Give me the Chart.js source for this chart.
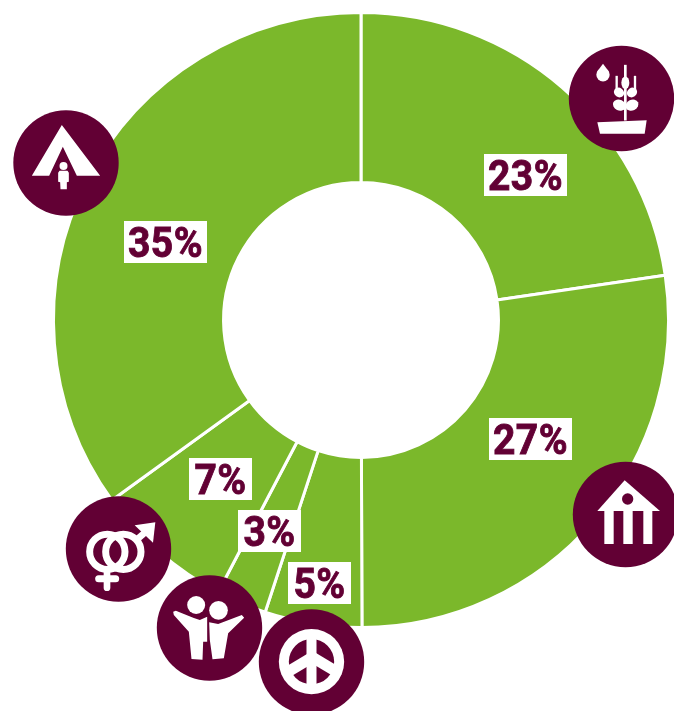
<!DOCTYPE html>
<html>
<head>
<meta charset="utf-8">
<title>Donut</title>
<script src="https://cdn.jsdelivr.net/npm/chart.js@4"></script>
<style>
  html, body { margin: 0; padding: 0; background: #fff; overflow: hidden; }
  canvas { display: block; }
</style>
</head>
<body>
<canvas id="graph_area" width="674" height="711"></canvas>
<script>
// slices, clockwise from 12 o'clock
const categories = ['food', 'shelter', 'peace', 'children', 'gender', 'displaced'];
const shares = [22.7, 27.3, 5.1, 2.65, 7.35, 35];
const shareLabels = ['23%', '27%', '5%', '3%', '7%', '35%'];

const GREEN = '#7bb82b';
const MAUVE = '#620034';
const WHITE = '#ffffff';

// label boxes and icon badges (centres in page pixels), same order as categories
const labelCentres = [[525.5, 175], [530.5, 439], [319.5, 583], [269.5, 531], [220.5, 479], [165.5, 242]];
const badgeCentres = [[621.5, 98.5], [625.5, 514.5], [311.5, 662], [209.5, 628], [118.5, 549], [66, 163]];
const BADGE_R = 52.7;

function poly(ctx, pts) {
  ctx.beginPath();
  pts.forEach(function (p, i) {
    if (i === 0) ctx.moveTo(p[0], p[1]); else ctx.lineTo(p[0], p[1]);
  });
  ctx.closePath();
  ctx.fill();
}
function disc(ctx, x, y, r) {
  ctx.beginPath();
  ctx.arc(x, y, r, 0, Math.PI * 2);
  ctx.fill();
}
function oval(ctx, x, y, rx, ry, rot) {
  ctx.beginPath();
  ctx.ellipse(x, y, rx, ry, rot, 0, Math.PI * 2);
  ctx.fill();
}
function seg(ctx, x1, y1, x2, y2, w, cap) {
  ctx.lineWidth = w;
  ctx.lineCap = cap || 'butt';
  ctx.beginPath();
  ctx.moveTo(x1, y1);
  ctx.lineTo(x2, y2);
  ctx.stroke();
}

// icons are drawn in a 3x local grid, origin at the badge centre offset below
const icons = [
  // wheat in a pot with a drop
  { ox: 424.5, oy: 206, draw: function (ctx) {
    disc(ctx, 369, 135, 20);
    poly(ctx, [[369, 102], [387, 126], [351, 126]]);
    poly(ctx, [[352, 277], [500, 271], [494, 312], [360, 312]]);
    seg(ctx, 410, 138, 410, 185, 7);
    seg(ctx, 465, 138, 465, 185, 7);
    oval(ctx, 418, 226, 20, 16, 0.45);
    oval(ctx, 456, 226, 20, 16, -0.45);
    oval(ctx, 417, 188, 16, 14, 0.6);
    oval(ctx, 456, 188, 16, 14, -0.6);
    oval(ctx, 436, 159, 12, 19, 0);
    seg(ctx, 436, 105, 436, 145, 8);
    seg(ctx, 436, 176, 436, 272, 8);
  } },
  // house with columns
  { ox: 436.5, oy: 343.5, draw: function (ctx) {
    poly(ctx, [[434, 241], [540, 333], [352, 333]]);
    ctx.fillRect(373, 333, 28, 99);
    ctx.fillRect(430, 333, 28, 99);
    ctx.fillRect(490, 333, 27, 99);
    ctx.fillStyle = MAUVE;
    disc(ctx, 443, 297, 17);
  } },
  // peace sign
  { ox: 485, oy: 306, draw: function (ctx) {
    disc(ctx, 485, 305, 98);
    ctx.fillStyle = MAUVE;
    disc(ctx, 485, 305, 68);
    ctx.save();
    ctx.beginPath();
    ctx.arc(485, 305, 72, 0, Math.PI * 2);
    ctx.clip();
    seg(ctx, 485, 210, 485, 400, 30);
    seg(ctx, 485, 293, 400, 344, 33);
    seg(ctx, 485, 290, 570, 341, 33);
    ctx.restore();
  } },
  // two children, arms raised
  { ox: 179, oy: 204, draw: function (ctx) {
    disc(ctx, 139, 135, 27);
    disc(ctx, 206, 151, 28);
    poly(ctx, [[70, 155], [78, 152], [132, 174], [150, 180], [172, 170], [172, 245], [160, 245], [158, 299], [125, 297], [117, 215], [72, 165]]);
    poly(ctx, [[178, 187], [205, 192], [276, 165], [283, 173], [235, 220], [222, 295], [188, 298], [180, 240]]);
  } },
  // male and female symbols
  { ox: 176.5, oy: 297, draw: function (ctx) {
    ctx.lineWidth = 21;
    ctx.beginPath();
    ctx.arc(143, 305.5, 53, 0, Math.PI * 2);
    ctx.stroke();
    ctx.beginPath();
    ctx.arc(191, 305.5, 53, 0, Math.PI * 2);
    ctx.stroke();
    seg(ctx, 142, 362, 142, 413, 20, 'round');
    seg(ctx, 117, 386, 168, 386, 21, 'round');
    seg(ctx, 230, 270, 262, 242, 20);
    poly(ctx, [[225, 226], [287, 217], [280, 278]]);
  } },
  // tent with a person
  { ox: 197.5, oy: 219, draw: function (ctx) {
    poly(ctx, [[185, 105], [300, 257], [230, 257], [188, 170], [147, 257], [95, 257]]);
    disc(ctx, 190, 228, 12);
    poly(ctx, [[178, 242], [202, 242], [206, 248], [206, 275], [200, 277], [200, 298], [181, 298], [180, 277], [174, 275], [174, 248]]);
  } }
];

const badgePlugin = {
  id: 'badges',
  afterDatasetsDraw: function (chart) {
    const ctx = chart.ctx;
    ctx.save();
    ctx.font = '700 42px Roboto';
    ctx.letterSpacing = '0.5px';
    ctx.textAlign = 'center';
    ctx.textBaseline = 'alphabetic';
    shareLabels.forEach(function (label, i) {
      const w = label.length === 3 ? 83 : 63;
      const c = labelCentres[i];
      ctx.fillStyle = WHITE;
      ctx.fillRect(c[0] - w / 2, c[1] - 21, w, 42);
      ctx.fillStyle = MAUVE;
      ctx.strokeStyle = MAUVE;
      ctx.lineWidth = 0.9;
      ctx.save();
      ctx.translate(c[0], c[1] + 15);
      ctx.scale(0.93, 1);
      ctx.fillText(label, 0, 0);
      ctx.strokeText(label, 0, 0); // source face is a bit heavier
      ctx.restore();
    });
    ctx.letterSpacing = '0px';
    badgeCentres.forEach(function (c, i) {
      ctx.fillStyle = MAUVE;
      disc(ctx, c[0], c[1], BADGE_R);
      ctx.save();
      ctx.translate(c[0], c[1]);
      ctx.scale(1 / 3, 1 / 3);
      ctx.translate(-icons[i].ox, -icons[i].oy);
      ctx.fillStyle = WHITE;
      ctx.strokeStyle = WHITE;
      icons[i].draw(ctx);
      ctx.restore();
    });
    ctx.restore();
  }
};

new Chart(document.getElementById('graph_area').getContext('2d'), {
  type: 'doughnut',
  data: {
    labels: categories,
    datasets: [{
      data: shares,
      backgroundColor: GREEN,
      borderColor: WHITE,
      borderWidth: 3
    }]
  },
  options: {
    responsive: false,
    animation: false,
    cutout: '44.7%',
    layout: { padding: { left: 52, right: 4, top: 11, bottom: 82 } },
    plugins: { legend: { display: false }, tooltip: { enabled: false } }
  },
  plugins: [badgePlugin]
});
</script>
</body>
</html>
